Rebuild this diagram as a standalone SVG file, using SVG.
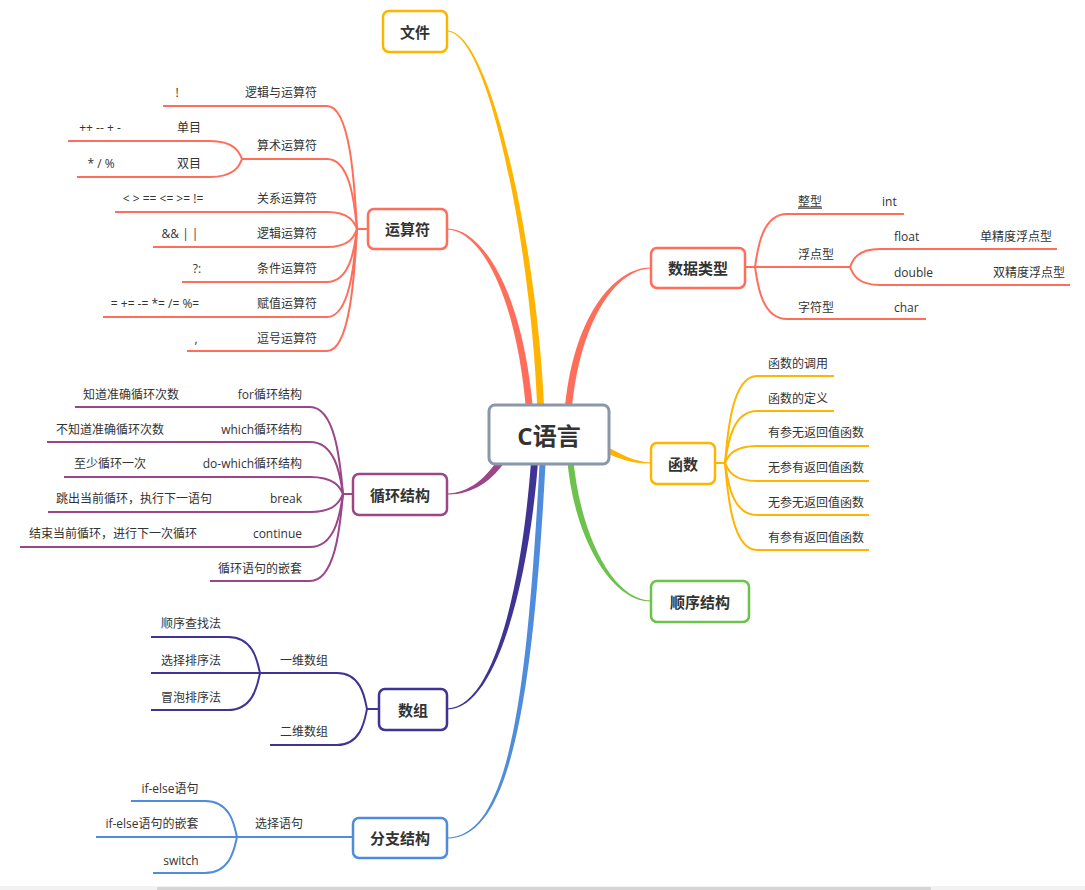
<svg xmlns="http://www.w3.org/2000/svg" width="1085" height="890" viewBox="0 0 1085 890">
<style>
.t{font-family:"Open Sans","Noto Sans CJK SC",sans-serif;font-size:12px;fill:#333;dominant-baseline:central}
.m{text-anchor:middle}
.e{text-anchor:end}
.n{font-family:"Open Sans","Noto Sans CJK SC",sans-serif;font-size:15px;font-weight:bold;fill:#333;text-anchor:middle;dominant-baseline:central}
.box{fill:#fff;stroke-width:2.5}
.br{fill:none;stroke-width:2}
.red{stroke:#ff6e5a}.yel{stroke:#ffb400}.grn{stroke:#6cc24c}.pur{stroke:#9b4688}.ind{stroke:#3f3394}.blu{stroke:#4f8cdb}
</style>
<rect x="0" y="886" width="1085" height="4" fill="#f2f2f2"/>
<rect x="157" y="887" width="774" height="3" fill="#d5d5d5"/>
<g id="connectors">
<!-- main tapered -->
<path fill="#ffb400" d="M447,30.5 C491,30 538,249 544.5,415 L537.5,415 C532,251 489,32 447,31.5 Z"/>
<path fill="#ff6e5a" d="M447,228.5 C481,228 523.5,289 533.5,415 L526.5,415 C516.5,291 479,230 447,229.5 Z"/>
<path fill="#ff6e5a" d="M651,267.5 C614,267 571.5,318 564.5,415 L571.5,415 C578.5,322 616,269 651,268.5 Z"/>
<path fill="#ffb400" d="M651,462.5 C635,462 621,454.5 600,443 L600,450 C619,459.5 635,464 651,463.5 Z"/>
<path fill="#6cc24c" d="M651,601.5 C609,602 571.5,531 567,455 L573,455 C578.5,529 611,600 651,600.5 Z"/>
<path fill="#9b4688" d="M447,494.5 C471,495 492.5,482 508,457 L502,453 C487.5,478 469,493 447,493.5 Z"/>
<path fill="#4f8cdb" d="M447,838.5 C511,839 533,700 546,455 L540,455 C527,700 509,837 447,837.5 Z"/>
<path fill="#3f3394" d="M447,709.5 C501,710 531.5,560 538.5,455 L531.5,455 C524.5,560 499,708 447,708.5 Z"/>
<!-- 运算符 -->
<g class="br red">
<path d="M357,229 L368,229"/>
<path d="M163,106 L327,106 C352,106 355,198 357,229"/>
<path d="M242,159 L327,159 C352,159 355,211.5 357,229"/>
<path d="M68,141 L210,141 C236.5,141 240,154.5 242,159"/>
<path d="M77,177 L210,177 C236.5,177 240,163.5 242,159"/>
<path d="M115,212 L327,212 C352,212 355,224.75 357,229"/>
<path d="M153,247 L327,247 C352,247 355,233.5 357,229"/>
<path d="M182,282 L327,282 C352,282 355,242.25 357,229"/>
<path d="M103,317 L327,317 C352,317 355,251 357,229"/>
<path d="M187,351 L327,351 C352,351 355,259.5 357,229"/>
</g>
<!-- 循环结构 -->
<g class="br pur">
<path d="M343,494 L353,494"/>
<path d="M75,407 L310,407 C337.4,407 340.7,472.25 343,494"/>
<path d="M47,442 L310,442 C337.4,442 340.7,481 343,494"/>
<path d="M64,477 L310,477 C337.4,477 340.7,489.75 343,494"/>
<path d="M48,512 L310,512 C337.4,512 340.7,498.5 343,494"/>
<path d="M20,547 L310,547 C337.4,547 340.7,507.25 343,494"/>
<path d="M210,581 L310,581 C337.4,581 340.7,515.75 343,494"/>
</g>
<!-- 数组 -->
<g class="br ind">
<path d="M367,709 L379,709"/>
<path d="M260,673 L337,673 C362,673 365,700 367,709"/>
<path d="M270,745 L337,745 C362,745 365,718 367,709"/>
<path d="M151,637 L228,637 C254.6,637 257.8,664 260,673"/>
<path d="M151,673 L260,673"/>
<path d="M151,710 L228,710 C254.6,710 257.8,682.25 260,673"/>
</g>
<!-- 分支结构 -->
<g class="br blu">
<path d="M96,837 L353,837"/>
<path d="M131,801 L205,801 C231.6,801 234.8,828 237,837"/>
<path d="M153,873 L205,873 C231.6,873 234.8,846 237,837"/>
</g>
<!-- 数据类型 -->
<g class="br red">
<path d="M745,267 L850,267"/>
<path d="M755,267 C757.2,254.25 760.4,214 787,214 L904,214"/>
<path d="M755,267 C757.2,280 760.4,319 787,319 L926,319"/>
<path d="M850,267 C852.1,262.5 855.1,249 880,249 L1057,249"/>
<path d="M850,267 C852.1,271.5 855.1,285 880,285 L1070,285"/>
</g>
<!-- 函数 -->
<g class="br yel">
<path d="M715,463 L725,463"/>
<path d="M725,463 C727.2,441.25 730.4,376 757,376 L834,376"/>
<path d="M725,463 C727.2,450 730.4,411 757,411 L834,411"/>
<path d="M725,463 C727.2,458.75 730.4,446 757,446 L869,446"/>
<path d="M725,463 C727.2,467.5 730.4,481 757,481 L869,481"/>
<path d="M725,463 C727.2,476 730.4,515 757,515 L869,515"/>
<path d="M725,463 C727.2,484.75 730.4,550 757,550 L869,550"/>
</g>
</g>
<g id="root">
<rect x="489" y="405" width="120" height="59" rx="6" fill="#fff" stroke="#8a97ab" stroke-width="3"/>
<text x="549" y="435" class="n" style="font-size:24px">C语言</text>
</g>
<g id="file"><rect class="box yel" x="383" y="11" width="64" height="41" rx="6"/><text class="n" x="415" y="31.5">文件</text></g>
<g id="ops"><rect class="box red" x="368" y="209" width="79" height="40" rx="6"/><text class="n" x="407.5" y="229">运算符</text></g>
<g id="types"><rect class="box red" x="651" y="248" width="94" height="40" rx="6"/><text class="n" x="698" y="268">数据类型</text></g>
<g id="func"><rect class="box yel" x="651" y="443" width="64" height="41" rx="6"/><text class="n" x="683" y="463.5">函数</text></g>
<g id="seq"><rect class="box grn" x="651" y="581" width="98" height="41" rx="6"/><text class="n" x="700" y="601.5">顺序结构</text></g>
<g id="loop"><rect class="box pur" x="353" y="474" width="94" height="41" rx="6"/><text class="n" x="400" y="494.5">循环结构</text></g>
<g id="arr"><rect class="box ind" x="379" y="689" width="68" height="41" rx="6"/><text class="n" x="413" y="709.5">数组</text></g>
<g id="branch"><rect class="box blu" x="353" y="818" width="94" height="40" rx="6"/><text class="n" x="400" y="838">分支结构</text></g>
<g id="ops-sub">
<text class="t e" x="317" y="92">逻辑与运算符</text><text class="t m" x="177" y="92">!</text>
<text class="t e" x="317" y="145">算术运算符</text>
<text class="t m" x="189" y="127">单目</text><text class="t m" x="100" y="127">++ -- + -</text>
<text class="t m" x="189" y="163">双目</text><text class="t m" x="101" y="163">* / %</text>
<text class="t e" x="317" y="198">关系运算符</text><text class="t m" x="163" y="198">&lt; &gt; == &lt;= &gt;= !=</text>
<text class="t e" x="317" y="233">逻辑运算符</text><text class="t m" x="180" y="233">&amp;&amp; | |</text>
<text class="t e" x="317" y="268">条件运算符</text><text class="t m" x="197" y="268">?:</text>
<text class="t e" x="317" y="303">赋值运算符</text><text class="t m" x="155" y="303">= += -= *= /= %=</text>
<text class="t e" x="317" y="338">逗号运算符</text><text class="t m" x="196" y="338">,</text>
</g>
<g id="loop-sub">
<text class="t e" x="302" y="394">for循环结构</text><text class="t m" x="131" y="394">知道准确循环次数</text>
<text class="t e" x="302" y="429">which循环结构</text><text class="t m" x="110" y="429">不知道准确循环次数</text>
<text class="t e" x="302" y="463">do-which循环结构</text><text class="t m" x="110" y="463">至少循环一次</text>
<text class="t e" x="302" y="498">break</text><text class="t m" x="134" y="498">跳出当前循环，执行下一语句</text>
<text class="t e" x="302" y="533">continue</text><text class="t m" x="113" y="533">结束当前循环，进行下一次循环</text>
<text class="t e" x="302" y="568">循环语句的嵌套</text>
</g>
<g id="arr-sub">
<text class="t m" x="304" y="660">一维数组</text><text class="t m" x="304" y="731">二维数组</text>
<text class="t m" x="191" y="623">顺序查找法</text><text class="t m" x="191" y="660">选择排序法</text><text class="t m" x="191" y="697">冒泡排序法</text>
</g>
<g id="branch-sub">
<text class="t m" x="279" y="823">选择语句</text>
<text class="t m" x="170" y="788">if-else语句</text><text class="t m" x="152" y="823">if-else语句的嵌套</text><text class="t m" x="181" y="860">switch</text>
</g>
<g id="types-sub">
<text class="t" x="798" y="201" text-decoration="underline">整型</text><text class="t" x="882" y="201">int</text>
<text class="t" x="798" y="254">浮点型</text>
<text class="t" x="894" y="236">float</text><text class="t" x="980" y="236">单精度浮点型</text>
<text class="t" x="894" y="272">double</text><text class="t" x="993" y="272">双精度浮点型</text>
<text class="t" x="798" y="307">字符型</text><text class="t" x="894" y="307">char</text>
</g>
<g id="func-sub">
<text class="t" x="768" y="363">函数的调用</text><text class="t" x="768" y="398">函数的定义</text>
<text class="t" x="768" y="432">有参无返回值函数</text><text class="t" x="768" y="467">无参有返回值函数</text>
<text class="t" x="768" y="502">无参无返回值函数</text><text class="t" x="768" y="537">有参有返回值函数</text>
</g>
</svg>
